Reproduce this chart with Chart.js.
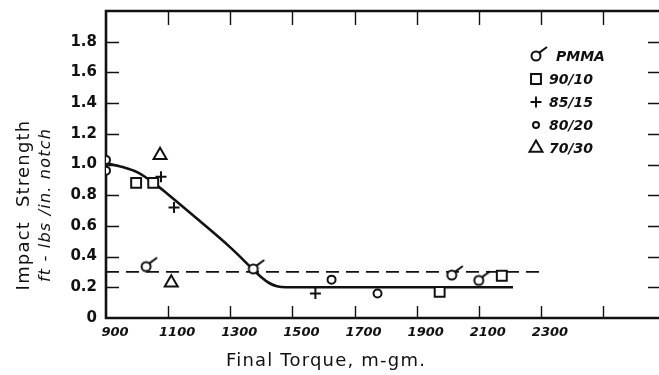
<!DOCTYPE html>
<html>
<head>
<meta charset="utf-8">
<script src="https://cdn.jsdelivr.net/npm/chart.js@4.4.1/dist/chart.umd.min.js"></script>
<style>
  html, body { margin: 0; padding: 0; background: #fff; }
  #wrap { width: 659px; height: 375px; }
</style>
</head>
<body>
<div id="wrap"><canvas id="chart" width="659" height="375"></canvas></div>
<script>
(function () {
  "use strict";

  // series: [final torque, impact strength]
  var pmmaPts = [[1029, 0.335], [1374, 0.32], [2013, 0.28], [2100, 0.245]];
  var pts9010 = [[997, 0.88], [1052, 0.88], [1974, 0.17], [2174, 0.275]];
  var pts8515 = [[1077, 0.92], [1119, 0.72], [1574, 0.16]];
  var pts8020 = [[900, 1.03], [900, 0.96], [1626, 0.25], [1774, 0.16]];
  var pts7030 = [[1074, 1.06], [1110, 0.23]];
  var curvePts = [[900, 1.01], [950, 0.985], [1000, 0.95], [1050, 0.885], [1100, 0.805],
                  [1200, 0.635], [1300, 0.46], [1374, 0.315], [1400, 0.265], [1425, 0.228],
                  [1450, 0.207], [1480, 0.2], [1700, 0.2], [2210, 0.2]];
  var dashPts = [[900, 0.3], [2305, 0.3]];

  var seriesNames = ["PMMA", "90/10", "85/15", "80/20", "70/30"];
  var xLabelValues = [900, 1100, 1300, 1500, 1700, 1900, 2100, 2300];
  var xTickMarks = [1100, 1300, 1500, 1700, 1900, 2100, 2300, 2500];
  var yLabelValues = [0, 0.2, 0.4, 0.6, 0.8, 1.0, 1.2, 1.4, 1.6, 1.8];
  var yLabelText = ["0", "0.2", "0.4", "0.6", "0.8", "1.0", "1.2", "1.4", "1.6", "1.8"];
  var yTitleLines = ["Impact  Strength", "ft - lbs /in. notch"];
  var xTitle = "Final Torque, m-gm.";

  var INK = "#111";
  var legendFont = "italic bold 14px 'DejaVu Sans'";

  function toXY(arr) {
    return arr.map(function (p) { return { x: p[0], y: p[1] }; });
  }

  // circle with a little flag, the PMMA symbol
  function pmmaSymbol(r) {
    var c = document.createElement("canvas");
    c.width = 28; c.height = 28;
    var g = c.getContext("2d");
    g.strokeStyle = INK;
    g.fillStyle = "#fff";
    g.lineWidth = 2;
    g.beginPath();
    g.arc(14, 14, r, 0, Math.PI * 2);
    g.fill();
    g.stroke();
    g.beginPath();
    g.moveTo(14 + r * 0.75, 14 - r * 0.75);
    g.lineTo(25, 5);
    g.stroke();
    return c;
  }
  var pmmaImg = pmmaSymbol(4.5);

  function markerSet(label, pts, style, radius) {
    return {
      label: label,
      data: toXY(pts),
      showLine: false,
      pointStyle: style,
      pointRadius: radius,
      pointHoverRadius: radius,
      borderColor: INK,
      backgroundColor: "#fff",
      pointBorderWidth: 2,
      borderWidth: 2,
      order: 0
    };
  }

  var datasets = [
    markerSet(seriesNames[0], pmmaPts, pmmaImg, 4),
    markerSet(seriesNames[1], pts9010, "rect", 7),
    markerSet(seriesNames[2], pts8515, "cross", 5.5),
    markerSet(seriesNames[3], pts8020, "circle", 4),
    markerSet(seriesNames[4], pts7030, "triangle", 7.5),
    {
      label: "curve",
      data: toXY(curvePts),
      showLine: true,
      cubicInterpolationMode: "monotone",
      borderColor: INK,
      borderWidth: 2.6,
      pointRadius: 0,
      order: 2
    },
    {
      label: "dash",
      data: toXY(dashPts),
      showLine: true,
      borderColor: INK,
      borderWidth: 1.7,
      borderDash: [13, 7],
      pointRadius: 0,
      order: 2
    }
  ];

  var framePlugin = {
    id: "frame",
    beforeDatasetsDraw: function (chart) {
      var ctx = chart.ctx, a = chart.chartArea;
      var xs = chart.scales.x, ys = chart.scales.y;
      ctx.save();
      ctx.strokeStyle = INK;
      ctx.lineWidth = 2.6;
      ctx.beginPath();
      ctx.moveTo(a.right + 4, a.top);
      ctx.lineTo(a.left, a.top);
      ctx.lineTo(a.left, a.bottom);
      ctx.lineTo(a.right + 4, a.bottom);
      ctx.stroke();

      ctx.lineWidth = 1.4;
      ctx.beginPath();
      xTickMarks.forEach(function (v) {
        var px = Math.round(xs.getPixelForValue(v)) + 0.5;
        ctx.moveTo(px, a.top);
        ctx.lineTo(px, a.top + 14);
        ctx.moveTo(px, a.bottom);
        ctx.lineTo(px, a.bottom - 12);
      });
      yLabelValues.forEach(function (v) {
        if (v === 0) return;
        var py = Math.round(ys.getPixelForValue(v)) + 0.5;
        ctx.moveTo(a.left, py);
        ctx.lineTo(a.left + 13, py);
        ctx.moveTo(a.right - 11, py);
        ctx.lineTo(a.right, py);
      });
      ctx.stroke();
      ctx.restore();
    }
  };

  var textPlugin = {
    id: "handText",
    afterDraw: function (chart) {
      var ctx = chart.ctx;
      ctx.save();
      ctx.fillStyle = INK;
      ctx.textBaseline = "middle";
      ctx.textAlign = "center";

      // axis titles
      ctx.font = "18px 'DejaVu Sans'";
      if ("letterSpacing" in ctx) ctx.letterSpacing = "1.2px";
      ctx.save();
      ctx.translate(24, 205);
      ctx.rotate(-Math.PI / 2);
      ctx.fillText(yTitleLines[0], 0, 0);
      ctx.restore();
      ctx.save();
      ctx.translate(46, 205);
      ctx.rotate(-Math.PI / 2);
      ctx.font = "italic 16px 'DejaVu Sans'";
      ctx.fillText(yTitleLines[1], 0, 0);
      ctx.restore();
      ctx.font = "18px 'DejaVu Sans'";
      ctx.fillText(xTitle, 326, 361);

      // legend
      if ("letterSpacing" in ctx) ctx.letterSpacing = "0px";
      ctx.textAlign = "left";
      ctx.font = legendFont;
      for (var i = 0; i < seriesNames.length; i++) {
        var rowY = 56 + i * 23;
        var ds = chart.data.datasets[i];
        ctx.strokeStyle = INK;
        ctx.fillStyle = "#fff";
        ctx.lineWidth = 2;
        var r = i === 3 ? 3 : ds.pointRadius;
        Chart.helpers.drawPoint(ctx, { pointStyle: ds.pointStyle, radius: r, borderWidth: 2, rotation: 0 }, 536, rowY);
        ctx.fillStyle = INK;
        ctx.fillText(ds.label, i === 0 ? 556 : 549, rowY + 1);
      }
      ctx.restore();
    }
  };

  new Chart(document.getElementById("chart"), {
    type: "scatter",
    data: { datasets: datasets },
    options: {
      responsive: false,
      animation: false,
      layout: { autoPadding: false, padding: { top: 11, right: 0, left: 0, bottom: 0 } },
      plugins: { legend: { display: false }, tooltip: { enabled: false } },
      scales: {
        x: {
          type: "linear",
          min: 900,
          max: 2680,
          grid: { display: false, drawTicks: false, tickLength: 0 },
          border: { display: false },
          ticks: {
            stepSize: 100,
            includeBounds: false,
            autoSkip: false,
            maxRotation: 0,
            labelOffset: 9,
            padding: 7,
            color: INK,
            font: { family: "DejaVu Sans", size: 13, style: "italic", weight: "bold" },
            callback: function (v) {
              return xLabelValues.indexOf(v) >= 0 ? String(v) : "";
            }
          },
          afterFit: function (s) {
            s.height = 57;
            s.paddingLeft = 0;
            s.paddingRight = 0;
          }
        },
        y: {
          min: 0,
          max: 2.0,
          grid: { display: false, drawTicks: false, tickLength: 0 },
          border: { display: false },
          ticks: {
            stepSize: 0.2,
            includeBounds: false,
            autoSkip: false,
            padding: 9,
            color: INK,
            font: { family: "DejaVu Sans", size: 15, weight: "bold" },
            callback: function (v) {
              for (var i = 0; i < yLabelValues.length; i++) {
                if (Math.abs(yLabelValues[i] - v) < 1e-6) return yLabelText[i];
              }
              return "";
            }
          },
          afterFit: function (s) {
            s.width = 106;
            s.paddingTop = 0;
            s.paddingBottom = 0;
          }
        }
      }
    },
    plugins: [framePlugin, textPlugin]
  });
})();
</script>
</body>
</html>
